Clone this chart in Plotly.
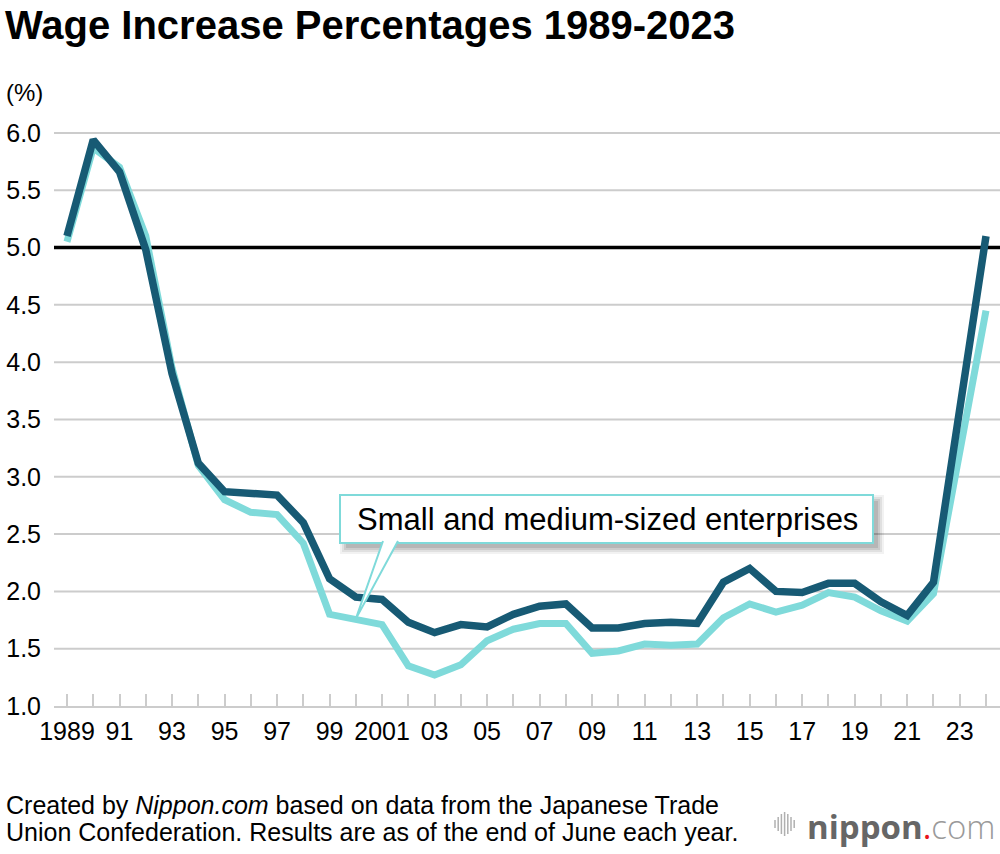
import plotly.graph_objects as go

# ---------------- data ----------------
years = list(range(1989, 2025))
all_firms = [5.10, 5.94, 5.66, 4.98, 3.90, 3.12, 2.87, 2.85, 2.84, 2.60,
             2.11, 1.95, 1.93, 1.73, 1.64, 1.71, 1.69, 1.80, 1.87, 1.89,
             1.68, 1.68, 1.72, 1.73, 1.72, 2.08, 2.20, 2.00, 1.99, 2.07,
             2.07, 1.91, 1.79, 2.08, 3.58, 5.10]
sme = [5.05, 5.87, 5.70, 5.10, 3.95, 3.10, 2.80, 2.69, 2.67, 2.42,
       1.80, 1.75, 1.71, 1.35, 1.27, 1.36, 1.57, 1.67, 1.72, 1.72,
       1.46, 1.48, 1.54, 1.53, 1.54, 1.77, 1.89, 1.82, 1.88, 1.99,
       1.95, 1.83, 1.74, 1.98, 3.23, 4.45]
y_ticks = [1.0, 1.5, 2.0, 2.5, 3.0, 3.5, 4.0, 4.5, 5.0, 5.5, 6.0]
ref_level = 5.0
callout_text = "Small and medium-sized enterprises"
callout_year = 2000


def year_label(y):
    if y in (1989, 2001):
        return str(y)
    if y % 2 == 1:
        return f"{y % 100:02d}"
    return ""


x_ticktext = [year_label(y) for y in years]
grid_levels = [v for v in y_ticks if v not in (ref_level, y_ticks[0])]

DARK = "#175a74"
LIGHT = "#7fdada"
GRID = "#cccccc"
FONT = "Liberation Sans, Arial, Helvetica, sans-serif"

# ---------------- geometry helpers (layout px -> axis units) ----------------
W, H = 1000, 854
ML, MR, MT, MB = 54, 0, 110, 148
PW, PH = W - ML - MR, H - MT - MB
XR = [1988.505, 2024.534]
YR = [1.0, 6.2]


def px2x(px):
    return XR[0] + (px - ML) / PW * (XR[1] - XR[0])


def py2y(py):
    return YR[0] + (H - MB - py) / PH * (YR[1] - YR[0])


def pxp(px):
    return (px - ML) / PW


def pyp(py):
    return (H - MB - py) / PH


fig = go.Figure()

fig.add_trace(go.Scatter(x=years, y=sme, mode="lines",
                         line=dict(color=LIGHT, width=7),
                         name="SMEs", hoverinfo="x+y"))
fig.add_trace(go.Scatter(x=years, y=all_firms, mode="lines",
                         line=dict(color=DARK, width=7.5),
                         name="All", hoverinfo="x+y"))

shapes = []
# horizontal grid lines (not at the reference level)
for g in grid_levels:
    shapes.append(dict(type="line", xref="paper", yref="y", x0=0, x1=1, y0=g, y1=g,
                       line=dict(color=GRID, width=2), layer="below"))
# reference line at 5.0
shapes.append(dict(type="line", xref="paper", yref="y", x0=0, x1=1,
                   y0=ref_level, y1=ref_level,
                   line=dict(color="black", width=3.5), layer="below"))

# callout box geometry (px)
bx0, bx1, by0, by1 = 340, 873, 495, 543
# soft shadow
for d, op in [(9, 0.05), (7, 0.07), (5, 0.09), (3, 0.10)]:
    shapes.append(dict(type="rect", xref="x", yref="y",
                       x0=px2x(bx0 + 9 - d), x1=px2x(bx1 + 2 + d),
                       y0=py2y(by1 + 2 + d), y1=py2y(by0 + 9 - d),
                       fillcolor=f"rgba(0,0,0,{op})", line=dict(width=0)))
shapes.append(dict(type="rect", xref="x", yref="y",
                   x0=px2x(bx0), x1=px2x(bx1), y0=py2y(by1), y1=py2y(by0),
                   fillcolor="white", line=dict(color=LIGHT, width=2)))
# pointer wedge to the SME line
tip_x = callout_year
tip_y = sme[years.index(callout_year)] + 0.01
wx0, wx1, wy = px2x(383), px2x(398), py2y(by1 - 2)
shapes.append(dict(type="path", xref="x", yref="y",
                   path=f"M {wx0},{wy} L {tip_x},{tip_y} L {wx1},{wy}",
                   fillcolor="white", line=dict(color=LIGHT, width=2)))

# nippon.com logo bars
bar_h = [8, 14, 20, 24, 20, 14, 8]
for i, h in enumerate(bar_h):
    bx = 775 + i * 3.2
    shapes.append(dict(type="line", xref="paper", yref="paper",
                       x0=pxp(bx), x1=pxp(bx), y0=pyp(824 - h / 2), y1=pyp(824 + h / 2),
                       line=dict(color="#b0b0b0", width=1.5)))

annotations = [
    dict(text="<b>Wage Increase Percentages 1989-2023</b>", xref="paper", yref="paper",
         x=pxp(3), y=pyp(25), xanchor="left", yanchor="middle", showarrow=False,
         font=dict(family=FONT, size=40, color="black")),
    dict(text="(%)", xref="paper", yref="paper",
         x=pxp(4), y=pyp(92), xanchor="left", yanchor="middle", showarrow=False,
         font=dict(family=FONT, size=24, color="black")),
    dict(text=callout_text, xref="paper", yref="paper",
         x=pxp((bx0 + bx1) / 2 + 1), y=pyp((by0 + by1) / 2), xanchor="center", yanchor="middle",
         showarrow=False, font=dict(family=FONT, size=31, color="black")),
    dict(text="Created by <i>Nippon.com</i> based on data from the Japanese Trade",
         xref="paper", yref="paper", x=pxp(4), y=pyp(805), xanchor="left", yanchor="middle",
         showarrow=False, font=dict(family=FONT, size=25, color="black")),
    dict(text="Union Confederation. Results are as of the end of June each year.",
         xref="paper", yref="paper", x=pxp(4), y=pyp(832), xanchor="left", yanchor="middle",
         showarrow=False, font=dict(family=FONT, size=25, color="black")),
    dict(text="<b>nippon</b><span style='color:#e8141c'>.</span>"
              "<span style='color:#9a9a9a;font-weight:300'>com</span>",
         xref="paper", yref="paper", x=pxp(805), y=pyp(826), xanchor="left", yanchor="middle",
         showarrow=False, font=dict(family="Open Sans, sans-serif", size=33, color="#666666")),
]

fig.update_layout(
    width=W, height=H, autosize=False,
    margin=dict(l=ML, r=MR, t=MT, b=MB, pad=0),
    paper_bgcolor="white", plot_bgcolor="white",
    showlegend=False,
    font=dict(family=FONT, color="black"),
    shapes=shapes, annotations=annotations,
    xaxis=dict(range=XR, tickvals=years, ticktext=x_ticktext,
               ticks="inside", ticklen=12, tickwidth=2, tickcolor=GRID,
               showline=True, linecolor=GRID, linewidth=2,
               showgrid=False, zeroline=False,
               tickfont=dict(family=FONT, size=25, color="black"),
               ticklabelstandoff=2, fixedrange=True),
    yaxis=dict(range=YR, tickvals=y_ticks, ticktext=[f"{v:.1f}" for v in y_ticks],
               showgrid=False, zeroline=False, showline=False, ticks="",
               tickfont=dict(family=FONT, size=25, color="black"),
               ticklabelstandoff=12, fixedrange=True),
)

fig.write_html("out.html", config={"displayModeBar": False},
               post_script="document.body.style.margin='0';document.body.style.padding='0';")
